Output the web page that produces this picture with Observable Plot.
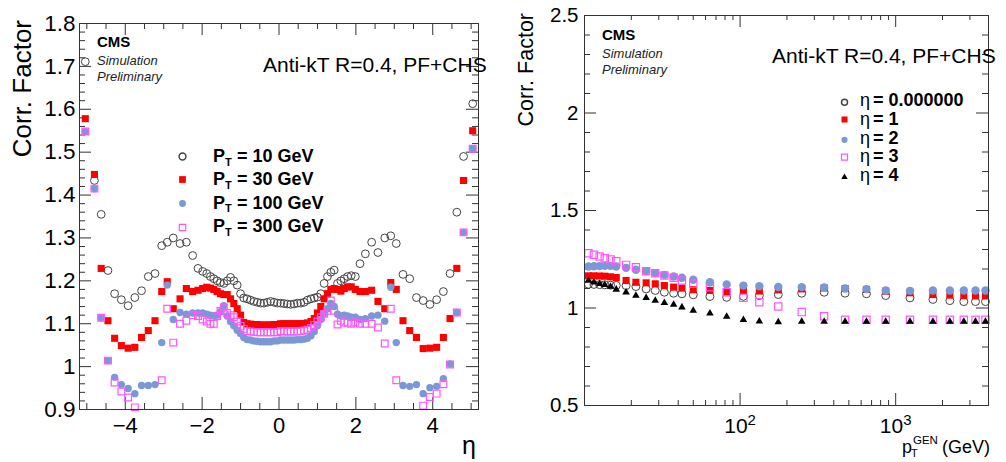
<!DOCTYPE html>
<html><head><meta charset="utf-8">
<script src="https://cdn.jsdelivr.net/npm/d3@7"></script>
<script src="https://cdn.jsdelivr.net/npm/@observablehq/plot@0.6"></script>
<style>
html,body{margin:0;padding:0;background:#fff;}
#wrap{position:relative;width:1006px;height:462px;overflow:hidden;background:#fff;font-family:"Liberation Sans",Arial,sans-serif;}
#left{position:absolute;left:0;top:0;width:503px;height:462px;}
#right{position:absolute;left:503px;top:0;width:503px;height:462px;}
svg{display:block;max-width:none !important;}
</style></head><body>
<div id="wrap"><div id="left"></div><div id="right"></div></div>
<script>
// ---------- Left panel: correction factor vs eta ----------
const eta = [-5.04,-4.8025,-4.627,-4.4505,-4.277,-4.102,-3.926,-3.7515,-3.5765,-3.4015,-3.2265,
 -3.0515,-2.9085,-2.7515,-2.575,-2.411,-2.247,-2.1075,-1.9865,-1.88,-1.785,-1.6965,-1.6095,-1.5225,-1.4355,-1.3485,-1.2615,-1.1745,-1.0875,-1.0005,-0.918,-0.831,
 -0.7395,-0.6525,-0.5655,-0.4785,-0.3915,-0.3045,-0.2175,-0.1305,-0.0435,
 0.0435,0.1305,0.2175,0.3045,0.3915,0.4785,0.5655,0.6525,0.7395,
 0.831,0.918,1.0005,1.0875,1.1745,1.2615,1.3485,1.4355,1.5225,1.6095,1.6965,1.785,1.88,1.9865,2.1075,2.247,2.411,2.575,2.7515,2.9085,3.0515,
 3.2265,3.4015,3.5765,3.7515,3.926,4.102,4.277,4.4505,4.627,4.8025,5.04];

const corrPt10 = [1.711,1.434,1.355,1.224,1.17,1.156,1.142,1.161,1.177,1.21,1.217,
 1.282,1.29,1.30,1.287,1.29,1.259,1.229,1.222,1.217,1.21,1.205,1.20,1.196,1.194,1.20,1.208,1.20,1.19,1.17,1.16,1.158,
 1.155,1.152,1.15,1.148,1.148,1.15,1.152,1.15,1.148,
 1.148,1.147,1.146,1.145,1.146,1.148,1.148,1.150,1.155,
 1.158,1.16,1.162,1.17,1.194,1.21,1.22,1.225,1.194,1.2,1.205,1.21,1.212,1.21,1.24,1.263,1.29,1.266,1.30,1.305,1.287,
 1.215,1.205,1.161,1.154,1.145,1.156,1.175,1.217,1.36,1.49,1.613];

const corrPt30 = [1.578,1.448,1.229,1.107,1.066,1.049,1.043,1.045,1.068,1.084,1.107,
 1.175,1.198,1.135,1.158,1.182,1.175,1.178,1.182,1.185,1.183,1.18,1.175,1.17,1.168,1.168,1.158,1.147,1.135,1.12,1.103,1.10,
 1.099,1.098,1.098,1.097,1.097,1.097,1.097,1.098,1.098,
 1.10,1.10,1.10,1.10,1.10,1.10,1.10,1.10,1.102,
 1.105,1.112,1.125,1.14,1.158,1.17,1.18,1.182,1.18,1.176,1.182,1.186,1.186,1.18,1.175,1.175,1.178,1.152,1.135,1.196,1.18,
 1.107,1.084,1.068,1.042,1.043,1.045,1.068,1.112,1.229,1.434,1.55];

const corrPt100 = [1.548,1.415,1.114,1.014,0.975,0.958,0.949,0.937,0.956,0.956,0.958,
 1.056,1.19,1.11,1.126,1.122,1.125,1.125,1.125,1.122,1.12,1.118,1.12,1.128,1.142,1.118,1.105,1.095,1.085,1.077,1.068,1.063,
 1.062,1.06,1.059,1.058,1.058,1.058,1.058,1.06,1.06,
 1.062,1.062,1.062,1.062,1.062,1.063,1.063,1.064,1.066,
 1.072,1.082,1.095,1.11,1.124,1.135,1.147,1.14,1.122,1.118,1.12,1.118,1.115,1.115,1.11,1.112,1.118,1.12,1.106,1.185,1.056,
 0.956,0.954,0.958,0.937,0.951,0.954,0.972,1.006,1.126,1.313,1.508];

const corrPt300 = [1.548,1.415,1.114,1.014,0.963,0.942,0.928,0.905,null,null,null,
 0.968,1.135,1.056,1.10,1.107,1.12,1.118,1.11,1.105,1.10,1.10,1.118,1.13,1.138,1.125,1.12,1.115,1.105,1.095,1.088,1.083,
 1.082,1.081,1.08,1.08,1.08,1.08,1.08,1.08,1.08,
 1.083,1.082,1.082,1.082,1.082,1.082,1.083,1.084,1.086,
 1.09,1.097,1.105,1.115,1.123,1.13,1.154,1.13,1.098,1.107,1.103,1.102,1.10,1.103,1.10,1.10,1.10,1.091,1.054,1.135,0.968,
 null,null,null,0.909,0.929,0.937,0.959,1.005,1.126,1.313,1.508];

const leftLegend = ["10 GeV", "30 GeV", "100 GeV", "300 GeV"];
const etaTicks = [-4,-2,0,2,4];
const leftYTicks = [0.9,1,1.1,1.2,1.3,1.4,1.5,1.6,1.7,1.8];

// ---------- Right panel: correction factor vs pT ----------
const ptGen = [10.6,11.5,12.5,13.5,14.7,16,18.5,21.4,24.9,28.5,32.6,37.4,42.3,50,64,82,105,133,176,249,347,473,649,863,1236,1735,2230,2741,3258,3777];
const corrEta0 = [1.122,1.121,1.12,1.119,1.117,1.116,1.115,1.11,1.098,1.09,1.081,1.076,1.073,1.068,1.059,1.055,1.06,1.064,1.069,1.076,1.081,1.076,1.073,1.064,1.052,1.044,1.038,1.033,1.033,1.033];
const corrEta1 = [1.165,1.165,1.164,1.163,1.16,1.156,1.141,1.132,1.129,1.124,1.115,1.107,1.102,1.094,1.09,1.083,1.09,1.087,1.093,1.098,1.103,1.10,1.095,1.086,1.078,1.069,1.066,1.063,1.062,1.062];
const corrEta2 = [1.213,1.214,1.215,1.216,1.216,1.213,1.206,1.196,1.189,1.179,1.17,1.162,1.155,1.145,1.132,1.121,1.115,1.112,1.108,1.107,1.105,1.10,1.097,1.09,1.088,1.09,1.09,1.09,1.09,1.09];
const corrEta3 = [1.281,1.273,1.264,1.255,1.249,1.240,1.221,1.209,1.189,1.178,1.167,1.155,1.141,1.124,1.107,1.081,1.052,1.030,1.008,0.979,0.958,0.94,0.94,0.94,0.94,0.94,0.94,0.94,0.94,0.94];
const corrEta4 = [1.141,1.132,1.124,1.119,1.110,1.095,1.081,1.064,1.052,1.038,1.026,1.018,1.004,0.987,0.973,0.956,0.939,0.932,0.928,0.93,0.93,0.93,0.93,0.93,0.93,0.93,0.93,0.93,0.93,0.93];
const rightLegend = ["0.000000", "1", "2", "3", "4"];
const ptTicks = [100, 1000];
const rightYTicks = [0.5,1,1.5,2,2.5];

// ---------- colours ----------
const C_OPEN = "#444", C_RED = "#ff0000", C_BLUE = "#7b98d6", C_PINK = "#ff55ff", C_FRAME = "#333";
const FONT = "Liberation Sans, Arial, Helvetica, sans-serif";

// ---------- helpers ----------
function frameTicks(major, minor, dim, axis, lenMaj, lenMin) {
  const marks = [];
  const add = (vals, len) => {
    if (axis === "x") {
      marks.push(Plot.tickX(vals, {x: d => d, insetTop: dim - len, stroke: C_FRAME}));
      marks.push(Plot.tickX(vals, {x: d => d, insetBottom: dim - len, stroke: C_FRAME}));
    } else {
      marks.push(Plot.tickY(vals, {y: d => d, insetRight: dim - len, stroke: C_FRAME}));
      marks.push(Plot.tickY(vals, {y: d => d, insetLeft: dim - len, stroke: C_FRAME}));
    }
  };
  add(major, lenMaj); add(minor, lenMin);
  return marks;
}
const fmtNum = d => (d < 0 ? "\u2212" + (-d) : String(+d.toFixed(2)));
function textAdder(s) {
  return (x, y, txt, size, extra = {}) => {
    const e = s.append("text").attr("x", x).attr("y", y).attr("text-anchor", "start")
      .attr("font-size", size).attr("font-family", FONT).attr("fill", extra.fill || "#000").text(txt);
    if (extra.weight) e.attr("font-weight", extra.weight);
    if (extra.style) e.attr("font-style", extra.style);
    return e;
  };
}

// ================= LEFT =================
{
  const W = 503, H = 462, ml = 79, mr = 25, mt = 23, mb = 53;
  const fw = W - ml - mr, fh = H - mt - mb;
  const rows = eta.map((e, i) => ({eta: e, a: corrPt10[i], b: corrPt30[i], c: corrPt100[i], d: corrPt300[i]}));
  const etaMinor = d3.range(-10, 11).map(i => i / 2).filter(v => !etaTicks.includes(v));
  const yMinor = d3.range(45, 91).map(i => i / 50).filter(v => Math.abs(v * 10 - Math.round(v * 10)) > 1e-6);
  const legDy = [133, 156, 180, 204];
  const svg = Plot.plot({
    width: W, height: H, marginLeft: ml, marginRight: mr, marginTop: mt, marginBottom: mb,
    style: {fontFamily: FONT, color: "#000", background: "#fff", overflow: "visible", maxWidth: "none"},
    x: {domain: [-5.191, 5.191], label: null},
    y: {domain: [0.9, 1.8], label: null},
    marks: [
      ...frameTicks(etaTicks, etaMinor, fh, "x", 12, 6),
      ...frameTicks(leftYTicks, yMinor, fw, "y", 12, 6),
      Plot.axisX(etaTicks, {tickSize: 0, tickPadding: 8, fontSize: 22, tickFormat: fmtNum, label: null}),
      Plot.axisY(leftYTicks, {tickSize: 0, tickPadding: 4, fontSize: 22.5, tickFormat: fmtNum, label: null}),
      Plot.dot(rows, {x: "eta", y: "a", r: 3.9, stroke: C_OPEN, strokeWidth: 1, fill: "none"}),
      Plot.dot(rows, {x: "eta", y: "b", r: 4, symbol: "square", fill: C_RED}),
      Plot.dot(rows, {x: "eta", y: "c", r: 3.7, fill: C_BLUE}),
      Plot.dot(rows, {x: "eta", y: "d", r: 3.8, symbol: "square", stroke: C_PINK, strokeWidth: 1.2, fill: "none"}),
      // legend markers
      Plot.dot([0], {frameAnchor: "top-left", dx: 103, dy: legDy[0], r: 3.4, stroke: C_OPEN, fill: "none"}),
      Plot.dot([0], {frameAnchor: "top-left", dx: 103, dy: legDy[1], r: 3.8, symbol: "square", fill: C_RED}),
      Plot.dot([0], {frameAnchor: "top-left", dx: 103, dy: legDy[2], r: 3.4, fill: C_BLUE}),
      Plot.dot([0], {frameAnchor: "top-left", dx: 103, dy: legDy[3], r: 3.6, symbol: "square", stroke: C_PINK, strokeWidth: 1.2, fill: "none"}),
      Plot.frame({stroke: C_FRAME})
    ]
  });
  svg.style.maxWidth = "none";
  const s = d3.select(svg);
  const t = textAdder(s);
  t(97, 47, "CMS", 15, {weight: "bold"});
  t(97, 65, "Simulation", 13, {style: "italic", fill: "#222"});
  t(97, 81, "Preliminary", 13, {style: "italic", fill: "#222"});
  t(263, 72, "Anti-kT R=0.4, PF+CHS", 21);
  s.append("text").attr("transform", "translate(31,20) rotate(-90)").attr("text-anchor", "end")
    .attr("font-size", 26).attr("font-family", FONT).text("Corr. Factor");
  t(462, 454, "\u03b7", 25);
  leftLegend.forEach((lab, i) => {
    const y = [162, 185, 208.5, 232][i];
    const e = s.append("text").attr("y", y).attr("text-anchor", "start").attr("font-size", 18).attr("font-weight", "bold").attr("font-family", FONT);
    e.append("tspan").attr("x", 213).text("P");
    e.append("tspan").attr("x", 225).attr("dy", 3.5).attr("font-size", 11).text("T");
    e.append("tspan").attr("x", 237).attr("dy", -3.5).text("= " + lab);
  });
  document.getElementById("left").appendChild(svg);
}

// ================= RIGHT =================
{
  const W = 503, H = 462, ml = 81, mr = 18, mt = 15, mb = 57;
  const fw = W - ml - mr, fh = H - mt - mb;
  const rows = ptGen.map((p, i) => ({pt: p, a: corrEta0[i], b: corrEta1[i], c: corrEta2[i], d: corrEta3[i], e: corrEta4[i]}));
  const xMinor = [20,30,40,50,60,70,80,90,200,300,400,500,600,700,800,900,2000,3000];
  const yMinor = d3.range(5, 26).filter(i => i % 5 !== 0).map(i => i / 10);
  const legDy = [86.7, 104, 124.3, 141.7, 161.7];
  const svg = Plot.plot({
    width: W, height: H, marginLeft: ml, marginRight: mr, marginTop: mt, marginBottom: mb,
    style: {fontFamily: FONT, color: "#000", background: "#fff", overflow: "visible", maxWidth: "none"},
    x: {type: "log", domain: [10, 3950], label: null},
    y: {domain: [0.5, 2.5], label: null},
    marks: [
      ...frameTicks(ptTicks, xMinor, fh, "x", 12, 5),
      ...frameTicks(rightYTicks, yMinor, fw, "y", 12, 6),
      Plot.axisX(ptTicks, {tickSize: 0, tickPadding: 13, fontSize: 21, tickFormat: d => (d === 100 ? "10\u00b2" : "10\u00b3"), label: null}),
      Plot.axisY(rightYTicks, {tickSize: 0, tickPadding: 6, fontSize: 20.5, tickFormat: fmtNum, label: null}),
      Plot.dot(rows, {x: "pt", y: "a", r: 4, stroke: C_OPEN, strokeWidth: 1, fill: "none"}),
      Plot.dot(rows, {x: "pt", y: "b", r: 4, symbol: "square", fill: C_RED}),
      Plot.dot(rows, {x: "pt", y: "c", r: 4.2, fill: C_BLUE}),
      Plot.dot(rows, {x: "pt", y: "d", r: 4.1, symbol: "square", stroke: C_PINK, strokeWidth: 1.2, fill: "none"}),
      Plot.dot(rows, {x: "pt", y: "e", r: 2.8, symbol: "triangle", fill: "#000"}),
      // legend markers
      Plot.dot([0], {frameAnchor: "top-left", dx: 260, dy: legDy[0], r: 3, stroke: C_OPEN, fill: "none"}),
      Plot.dot([0], {frameAnchor: "top-left", dx: 260, dy: legDy[1], r: 3.4, symbol: "square", fill: C_RED}),
      Plot.dot([0], {frameAnchor: "top-left", dx: 260, dy: legDy[2], r: 3.1, fill: C_BLUE}),
      Plot.dot([0], {frameAnchor: "top-left", dx: 260, dy: legDy[3], r: 3.4, symbol: "square", stroke: C_PINK, strokeWidth: 1.2, fill: "none"}),
      Plot.dot([0], {frameAnchor: "top-left", dx: 260, dy: legDy[4], r: 2.4, symbol: "triangle", fill: "#000"}),
      Plot.frame({stroke: C_FRAME})
    ]
  });
  svg.style.maxWidth = "none";
  const s = d3.select(svg);
  // real superscripts on the log-axis labels
  s.selectAll("text").each(function () {
    const txt = this.textContent;
    if (txt === "10\u00b2" || txt === "10\u00b3") {
      const sup = txt === "10\u00b2" ? "2" : "3";
      const el = d3.select(this);
      el.text("10");
      el.append("tspan").attr("dy", "-0.55em").attr("font-size", 15).text(sup);
    }
  });
  const t = textAdder(s);
  t(99, 40, "CMS", 15, {weight: "bold"});
  t(99, 58, "Simulation", 13, {style: "italic", fill: "#222"});
  t(99, 74, "Preliminary", 13, {style: "italic", fill: "#222"});
  t(269, 63, "Anti-kT R=0.4, PF+CHS", 21);
  s.append("text").attr("transform", "translate(30,13) rotate(-90)").attr("text-anchor", "end")
    .attr("font-size", 21.5).attr("font-family", FONT).text("Corr. Factor");
  // x title p_T^GEN (GeV)
  const xt = s.append("text").attr("y", 452.5).attr("text-anchor", "start").attr("font-size", 18).attr("font-family", FONT);
  xt.append("tspan").attr("x", 399).text("p");
  xt.append("tspan").attr("x", 408).attr("dy", 4.5).attr("font-size", 11).text("T");
  xt.append("tspan").attr("x", 410).attr("dy", -13).attr("font-size", 11.5).text("GEN");
  xt.append("tspan").attr("x", 439).attr("dy", 8.5).text("(GeV)");
  rightLegend.forEach((lab, i) => {
    const y = [106, 124.5, 143.5, 162.3, 181][i];
    const e = s.append("text").attr("y", y).attr("text-anchor", "start").attr("font-size", 18).attr("font-family", FONT);
    e.append("tspan").attr("x", 357).text("\u03b7");
    e.append("tspan").attr("x", 370).attr("font-weight", "bold").text("= " + lab);
  });
  document.getElementById("right").appendChild(svg);
}
</script>
</body></html>
